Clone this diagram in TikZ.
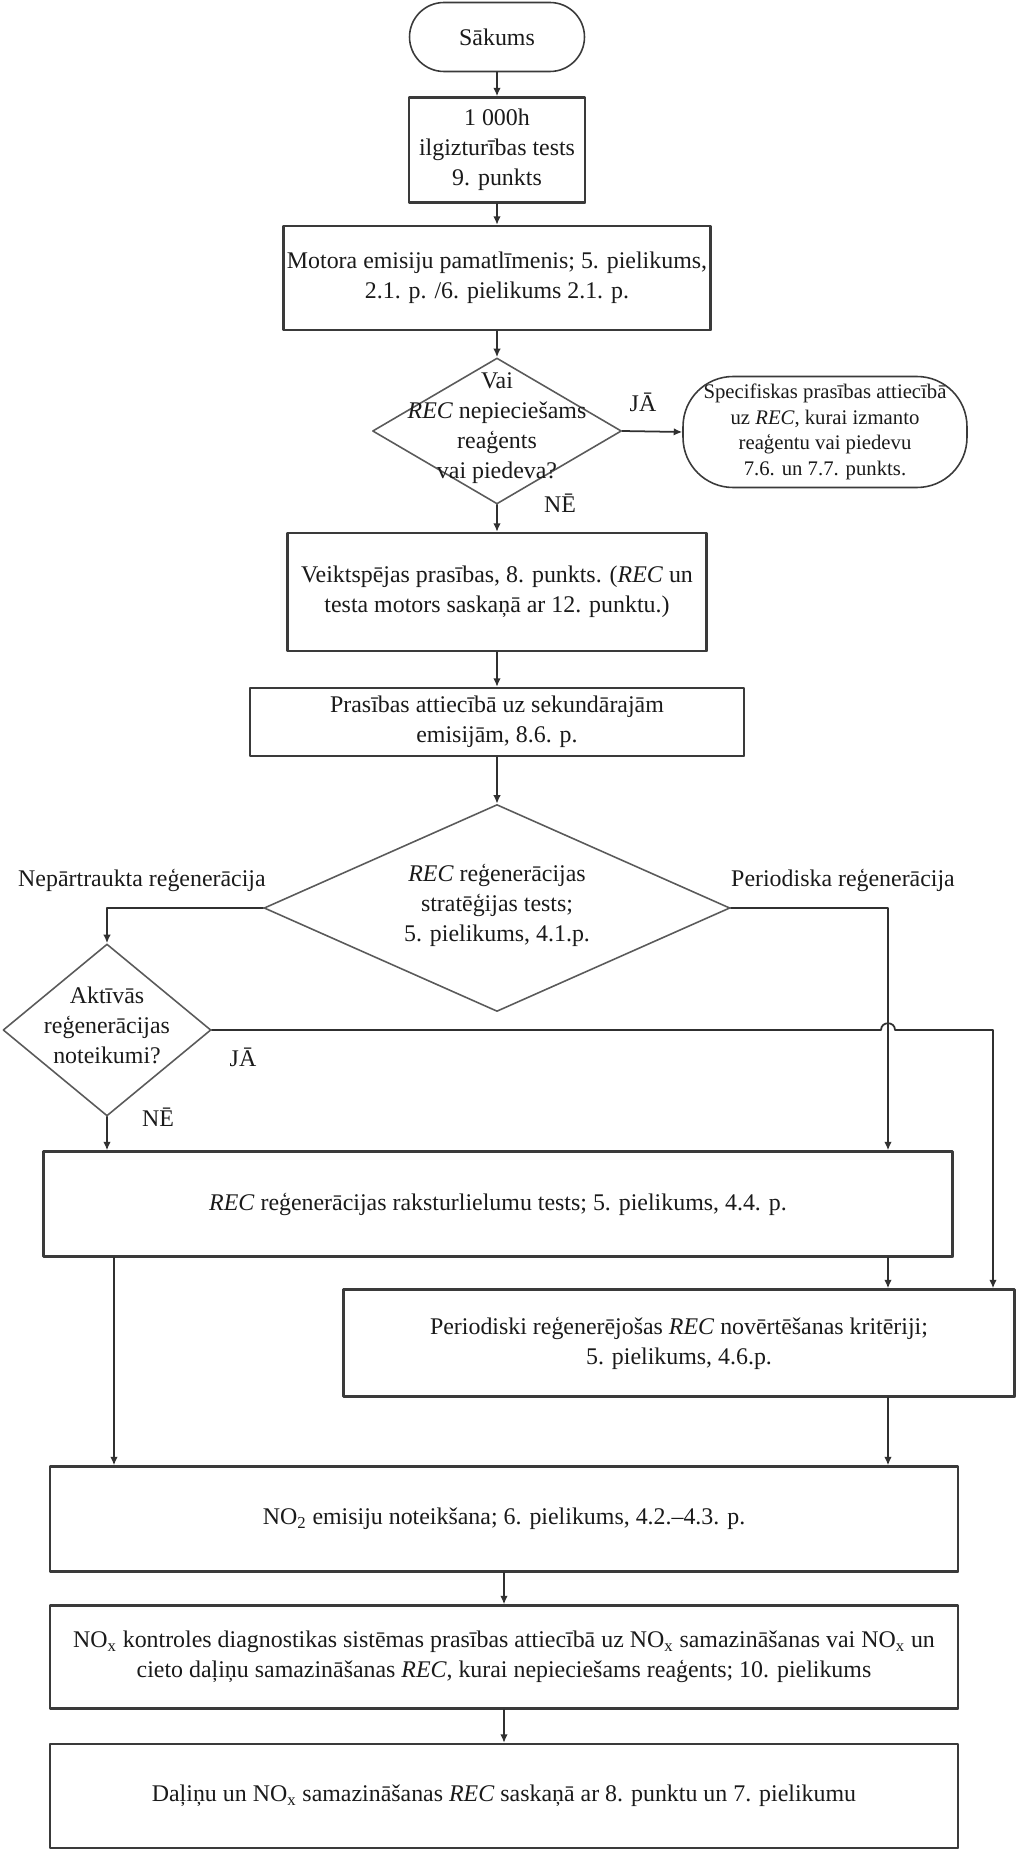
\documentclass[tikz,border=0pt]{standalone}
\usepackage{fontspec}
\setmainfont{Liberation Serif}
\usetikzlibrary{arrows.meta,shapes.geometric,shadows}
\definecolor{fcInk}{HTML}{1A1A1A}
\definecolor{fcLine}{HTML}{303030}
\definecolor{fcEdge}{HTML}{3A3A3A}
\definecolor{fcDiam}{HTML}{5A5A5A}
\definecolor{fcShade}{HTML}{BDBDBD}
\newcommand{\fcMain}{\fontsize{13.6pt}{17pt}\selectfont}
\newcommand{\fcSmall}{\fontsize{11.8pt}{14.6pt}\selectfont}
\tikzset{
  fc box/.style={rectangle, draw=fcEdge, line width=1.3pt, fill=white,
    align=center, inner sep=2pt,
    drop shadow={shadow xshift=0.8pt, shadow yshift=-0.8pt, fill=fcShade, opacity=1}},
  fc term/.style={rectangle, draw=fcEdge, line width=0.9pt, fill=white,
    align=center, inner sep=2pt},
  fc diamond/.style={diamond, draw=fcDiam, line width=0.9pt, inner sep=0pt},
  fc text/.style={align=center, inner sep=0pt, text=fcInk},
  fc arrow/.style={fcLine, line width=1pt, -{Latex[length=1.7mm,width=1.5mm]}},
  fc line/.style={fcLine, line width=1pt},
}

\begin{document}
\begin{tikzpicture}[x=0.02cm, y=-0.02cm, font=\fcMain, text=fcInk,
    line cap=round, line join=round]
  % frame: reference is 1017 x 1851 px, y runs downwards
  \useasboundingbox (0,0) rectangle (1017,1851);

  % --- upper column ---
  \node[fc term, rounded corners=0.69cm, minimum width=3.5cm, minimum height=1.38cm]
    (start) at (497,37) {Sākums};
  \node[fc box, minimum width=3.52cm, minimum height=2.1cm]
    (dur) at (497,150) {1 000h\\ilgizturības tests\\9. punkts};
  \node[fc box, minimum width=8.4cm, minimum height=2.08cm]
    (base) at (497,278) {Motora emisiju pamatlīmenis; 5. pielikums,\\2.1. p. /6. pielikums 2.1. p.};

  % reagent question
  \node[fc diamond, minimum width=4.98cm, minimum height=2.92cm] (q1) at (497,431) {};
  \node[fc text] (q1txt) at (497,428)
    {Vai\\\textit{REC} nepieciešams\\reaģents\\vai piedeva?};
  \node[fc term, rounded corners=1cm, minimum width=5.68cm, minimum height=2.22cm,
        font=\fcSmall]
    (spec) at (825,432)
    {Specifiskas prasības attiecībā\\uz \textit{REC}, kurai izmanto\\reaģentu vai piedevu\\7.6. un 7.7. punkts.};
  \node[fc text] (yes1) at (643,402) {JĀ};
  \node[fc text] (no1) at (560,503) {NĒ};

  \node[fc box, minimum width=8.38cm, minimum height=2.36cm]
    (perf) at (497,592) {Veiktspējas prasības, 8. punkts. (\textit{REC} un\\testa motors saskaņā ar 12. punktu.)};
  \node[fc box, minimum width=9.88cm, minimum height=1.36cm]
    (sec) at (497,722) {Prasības attiecībā uz sekundārajām\\emisijām, 8.6. p.};

  % --- regeneration strategy ---
  \node[fc diamond, minimum width=9.32cm, minimum height=4.14cm] (q2) at (497,908) {};
  \node[fc text] (q2txt) at (497,905)
    {\textit{REC} reģenerācijas\\stratēģijas tests;\\5. pielikums, 4.1.p.};
  \node[fc text, anchor=east] (lblCont) at (266,880) {Nepārtraukta reģenerācija};
  \node[fc text] (lblPer) at (843,880) {Periodiska reģenerācija};

  \node[fc diamond, minimum width=4.16cm, minimum height=3.44cm] (q3) at (107,1030) {};
  \node[fc text] (q3txt) at (107,1025) {Aktīvās\\reģenerācijas\\noteikumi?};
  \node[fc text] (yes3) at (243,1057) {JĀ};
  \node[fc text] (no3) at (158,1117) {NĒ};

  % --- lower column ---
  \node[fc box, minimum width=18.18cm, minimum height=2.1cm]
    (rec) at (498,1204) {\textit{REC} reģenerācijas raksturlielumu tests; 5. pielikums, 4.4. p.};
  \node[fc box, minimum width=13.42cm, minimum height=2.14cm]
    (per) at (679,1343) {Periodiski reģenerējošas \textit{REC} novērtēšanas kritēriji;\\5. pielikums, 4.6.p.};
  \node[fc box, minimum width=18.16cm, minimum height=2.1cm]
    (no2) at (504,1519) {NO\textsubscript{2} emisiju noteikšana; 6. pielikums, 4.2.–4.3. p.};
  \node[fc box, minimum width=18.16cm, minimum height=2.06cm]
    (nox) at (504,1657) {NO\textsubscript{x} kontroles diagnostikas sistēmas prasības attiecībā uz NO\textsubscript{x} samazināšanas vai NO\textsubscript{x} un\\cieto daļiņu samazināšanas \textit{REC}, kurai nepieciešams reaģents; 10. pielikums};
  \node[fc box, minimum width=18.16cm, minimum height=2.08cm]
    (dal) at (504,1796) {Daļiņu un NO\textsubscript{x} samazināšanas \textit{REC} saskaņā ar 8. punktu un 7. pielikumu};

  % junction columns
  \coordinate (jR) at (888,908);
  \coordinate (jRR) at (993,1030);
  \coordinate (jL) at (114,1300);
  \coordinate (hopL) at (881,1030);
  \coordinate (hopR) at (895,1030);

  % --- connectors ---
  \draw[fc arrow] (start) -- (dur);
  \draw[fc arrow] (dur) -- (base);
  \draw[fc arrow] (base) -- (q1);
  \draw[fc arrow] (q1.east) -- (spec.west);
  \draw[fc arrow] (q1) -- (perf);
  \draw[fc arrow] (perf) -- (sec);
  \draw[fc arrow] (sec) -- (q2);

  \draw[fc arrow] (q2.west) -| (q3.north);
  \draw[fc arrow] (q2.east) -- (jR) -- (jR |- rec.north);
  \draw[fc arrow] (q3.south) -- (q3.south |- rec.north);
  \draw[fc arrow] (q3.east) -- (hopL)
    .. controls (881,1021) and (895,1021) .. (hopR) -- (jRR) -- (jRR |- per.north);

  \draw[fc arrow] (jR |- rec.south) -- (jR |- per.north);
  \draw[fc arrow] (jL |- rec.south) -- (jL |- no2.north);
  \draw[fc arrow] (jR |- per.south) -- (jR |- no2.north);
  \draw[fc arrow] (no2) -- (nox);
  \draw[fc arrow] (nox) -- (dal);
\end{tikzpicture}
\end{document}
